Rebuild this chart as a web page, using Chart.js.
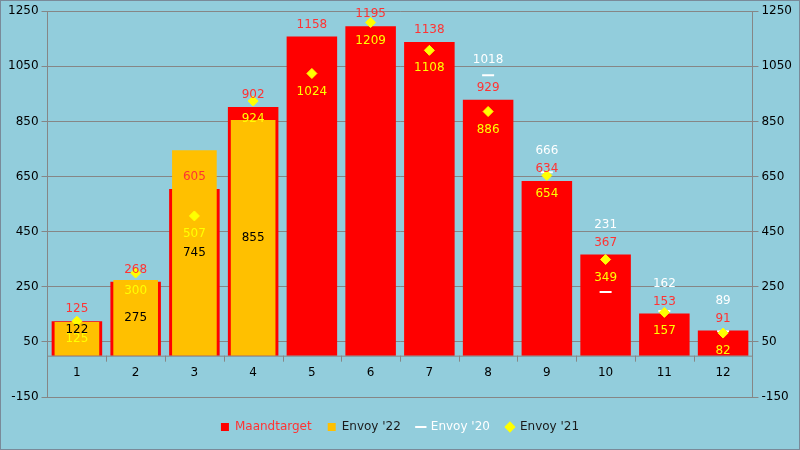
<!DOCTYPE html>
<html><head><meta charset="utf-8">
<script src="https://cdn.jsdelivr.net/npm/chart.js@4"></script>
<style>html,body{margin:0;padding:0;background:#fff}
#wrap{width:798px;height:448px;border:1px solid #7a8a99;background:#92CDDC;}
</style></head><body><div id="wrap"><canvas id="c" width="798" height="448"></canvas></div>
<script>
const months = ['1','2','3','4','5','6','7','8','9','10','11','12'];
const maandtarget = [125,268,605,902,1158,1195,1138,929,634,367,153,91];
const envoy22 = [122,275,745,855,null,null,null,null,null,null,null,null];
const envoy20 = [null,null,null,null,null,null,null,1018,666,231,162,89];
const envoy21 = [125,300,507,924,1024,1209,1108,886,654,349,157,82];
const tickValues = [-150,50,250,450,650,850,1050,1250];
const FONT = 'Verdana, "DejaVu Sans", sans-serif';

const labelPlugin = {
  id:'lbl',
  afterDatasetsDraw(chart){
    const ctx = chart.ctx, y = chart.scales.y, xs = chart.scales.x, ca = chart.chartArea;
    const mR = chart.getDatasetMeta(0);
    ctx.save();
    // category axis at value 0
    const y0 = y.getPixelForValue(0);
    ctx.strokeStyle='#868686'; ctx.lineWidth=1;
    ctx.beginPath(); ctx.moveTo(ca.left,y0+0.5); ctx.lineTo(ca.right,y0+0.5);
    const step=(ca.right-ca.left)/months.length;
    for(let k=1;k<months.length;k++){const px=Math.round(ca.left+k*step)+0.5;ctx.moveTo(px,y0);ctx.lineTo(px,y0+6);}
    ctx.stroke();
    ctx.font = '12px '+FONT;
    ctx.textAlign='center'; ctx.textBaseline='middle';
    months.forEach((m,i)=>{
      const x = mR.data[i].x;
      ctx.fillStyle='#000'; ctx.fillText(m, x, y0+17);
      const redTop = y.getPixelForValue(maandtarget[i]);
      ctx.fillStyle='#FF3333'; ctx.fillText(maandtarget[i], x, redTop-12);
      const dy = y.getPixelForValue(envoy21[i]);
      const yl = dy+18;
      if(envoy22[i]!=null){
        const t=y.getPixelForValue(envoy22[i]);
        let by=(t+y0)/2;
        if(Math.abs(by-yl)<12) by=t+8;
        ctx.fillStyle='#000'; ctx.fillText(envoy22[i], x, by);
      }
      ctx.fillStyle='#FFFF00'; ctx.fillText(envoy21[i], x, yl);
      if(envoy20[i]!=null){
        const wy = Math.min(y.getPixelForValue(envoy20[i])-15, redTop-30);
        ctx.fillStyle='#FFFFFF'; ctx.fillText(envoy20[i], x, wy);
      }
    });
    ctx.restore();
  }
};

new Chart(document.getElementById('c'),{
  data:{labels:months,datasets:[
    {type:'bar',label:'Maandtarget',data:maandtarget,backgroundColor:'#FF0000',grouped:false,order:4,categoryPercentage:0.86,barPercentage:1},
    {type:'bar',label:"Envoy '22",data:envoy22,backgroundColor:'#FFC000',grouped:false,order:3,categoryPercentage:0.76,barPercentage:1},
    {type:'line',label:"Envoy '20",data:envoy20,showLine:false,pointStyle:'line',pointRadius:6,borderColor:'#FFFFFF',borderWidth:2,backgroundColor:'#FFFFFF',order:2},
    {type:'line',label:"Envoy '21",data:envoy21,showLine:false,pointStyle:'rectRot',pointRadius:5,borderColor:'#FFFF00',backgroundColor:'#FFFF00',order:1}
  ]},
  options:{
    responsive:false,animation:false,
    layout:{padding:{left:4,right:4,top:6,bottom:6}},
    scales:{
      x:{grid:{display:false},border:{color:'#868686'},ticks:{display:false}},
      y:{min:-150,max:1250,afterBuildTicks(s){s.ticks=tickValues.map(v=>({value:v}));},
        grid:{color:'#868686',drawTicks:true,tickLength:6,tickColor:'#868686'},border:{color:'#868686'},
        ticks:{color:'#000',font:{size:12,family:FONT},callback:v=>String(v)}},
      y2:{position:'right',min:-150,max:1250,afterBuildTicks(s){s.ticks=tickValues.map(v=>({value:v}));},
        grid:{drawOnChartArea:false,tickLength:6,tickColor:'#868686'},border:{color:'#868686'},
        ticks:{color:'#000',font:{size:12,family:FONT},callback:v=>String(v)}}
    },
    plugins:{
      tooltip:{enabled:false},
      legend:{position:'bottom',labels:{boxWidth:8,boxHeight:8,padding:16,font:{size:12,family:FONT},
        generateLabels(chart){
          const cols=['#FF3333','#1a1a1a','#FFFFFF','#1a1a1a'];
          return chart.data.datasets.map((d,i)=>({text:d.label,fillStyle:d.backgroundColor,strokeStyle:d.backgroundColor,
            fontColor:cols[i],pointStyle:i===2?'line':(i===3?'rectRot':'rect'),lineWidth:i===2?2:0,datasetIndex:i,hidden:false}));
        },usePointStyle:true}}
    }
  },
  plugins:[labelPlugin]
});
</script></body></html>
